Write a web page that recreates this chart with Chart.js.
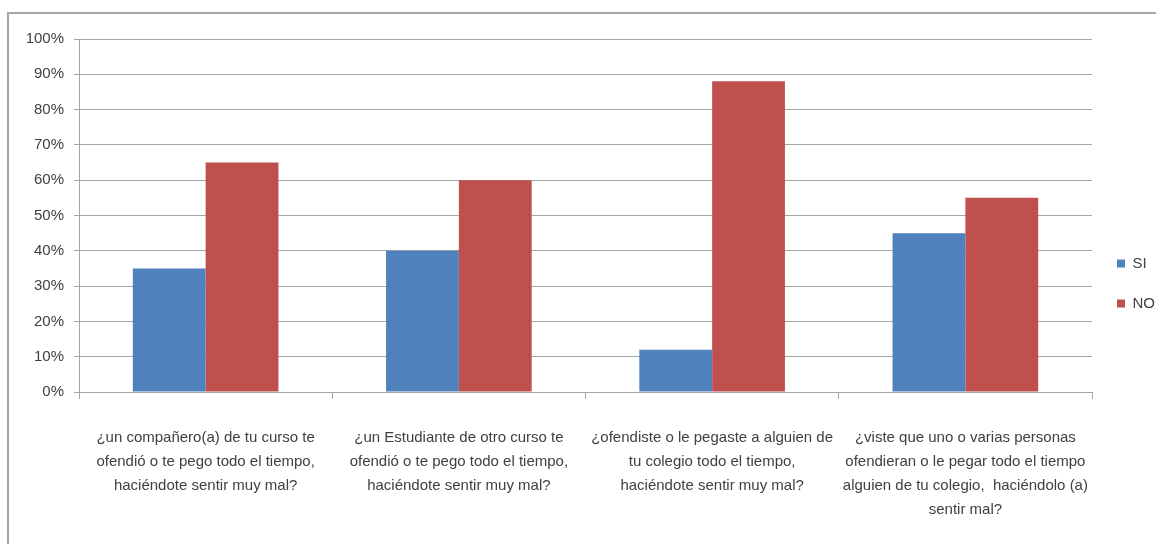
<!DOCTYPE html>
<html>
<head>
<meta charset="utf-8">
<script src="https://cdn.jsdelivr.net/npm/chart.js@4"></script>
<style>
  body { margin: 0; background: #fff; }
  #frame {
    position: absolute; left: 7px; top: 12px; width: 1160px; height: 540px;
    border-top: 2px solid #a6a6a6; border-left: 2px solid #a6a6a6;
  }
  #wrap { position: absolute; left: 0; top: 0; width: 1156px; height: 544px; }
</style>
</head>
<body>
<div id="frame"></div>
<div id="wrap"><canvas id="chart"></canvas></div>
<script>
const categories = [
  ["¿un compañero(a) de tu curso te", "ofendió o te pego todo el tiempo,", "haciéndote sentir muy mal?"],
  ["¿un Estudiante de otro curso te", "ofendió o te pego todo el tiempo,", "haciéndote sentir muy mal?"],
  ["¿ofendiste o le pegaste a alguien de", "tu colegio todo el tiempo,", "haciéndote sentir muy mal?"],
  ["¿viste que uno o varias personas", "ofendieran o le pegar todo el tiempo", "alguien de tu colegio,  haciéndolo (a)", "sentir mal?"]
];
const siValues = [35, 40, 12, 45];
const noValues = [65, 60, 88, 55];

const font = "'Liberation Sans Narrow', 'Liberation Sans', sans-serif";
const textColor = "#404040";

new Chart(document.getElementById("chart"), {
  type: "bar",
  data: {
    labels: categories,
    datasets: [
      { label: "SI", data: siValues, backgroundColor: "#4f81bd", borderWidth: 0 },
      { label: "NO", data: noValues, backgroundColor: "#c0504d", borderWidth: 0 }
    ]
  },
  options: {
    responsive: true,
    maintainAspectRatio: false,
    animation: false,
    layout: { padding: { top: 39, left: 0, right: -9, bottom: 16 } },
    datasets: { bar: { categoryPercentage: 0.575, barPercentage: 1 } },
    plugins: {
      tooltip: { enabled: false },
      legend: {
        position: "right",
        labels: {
          color: textColor,
          font: { family: font, size: 15 },
          boxWidth: 8,
          boxHeight: 8,
          padding: 25
        }
      }
    },
    scales: {
      x: {
        grid: { drawOnChartArea: false, drawTicks: true, tickLength: 7, color: "#a6a6a6" },
        border: { color: "#a6a6a6" },
        ticks: {
          color: textColor,
          font: { family: font, size: 15, lineHeight: 1.6 },
          maxRotation: 0,
          autoSkip: false,
          padding: 27
        },
        afterFit: (s) => { s.height = 136; }
      },
      y: {
        min: 0,
        max: 100,
        grid: { color: "#a6a6a6", tickLength: 5 },
        border: { color: "#a6a6a6" },
        ticks: {
          stepSize: 10,
          color: textColor,
          font: { family: font, size: 15 },
          padding: 10,
          callback: (v) => v + "%"
        },
        afterFit: (s) => { s.width = 79; }
      }
    }
  }
});
</script>
</body>
</html>
